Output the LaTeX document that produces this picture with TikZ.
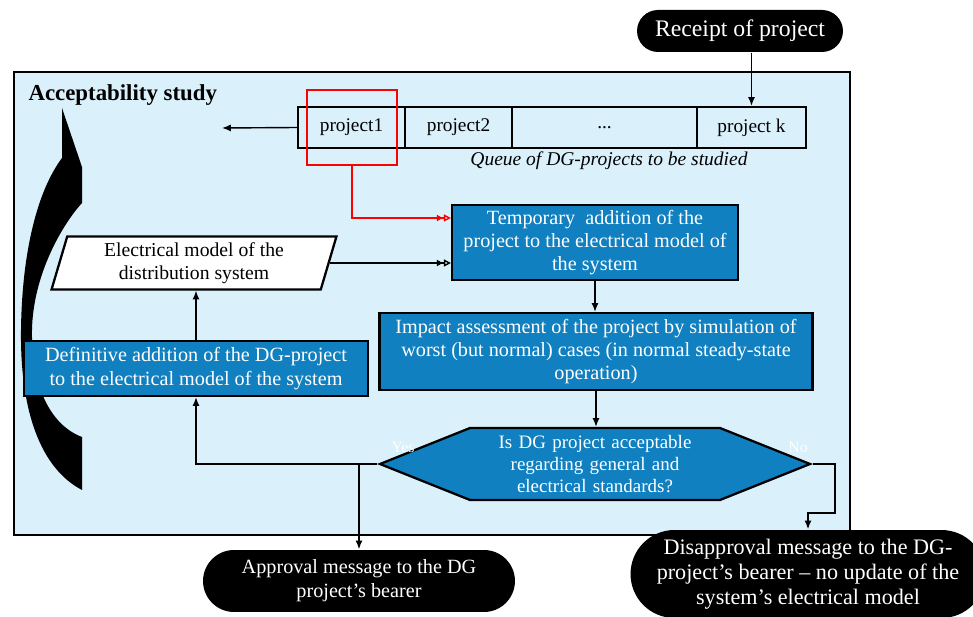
\documentclass[tikz,border=0pt]{standalone}
\usepackage{fontspec}
\setmainfont{Liberation Serif}
\usetikzlibrary{shapes.geometric, shapes.misc, shapes.symbols}
\usetikzlibrary{arrows.meta}
\usetikzlibrary{calc}
\usetikzlibrary{positioning}
\definecolor{studybg}{RGB}{218,240,250}
\definecolor{stepblue}{RGB}{16,128,192}

\begin{document}
\begin{tikzpicture}[x=0.02cm, y=-0.02cm, line width=0.8pt,
    >={Latex[length=5pt,width=4pt]},
    bluebox/.style={draw, line width=1.3pt, fill=stepblue, text=white, align=center, inner sep=0pt, font=\fontsize{11.5}{13.3}\selectfont},
    pill/.style={rounded rectangle, fill=black, text=white, align=center, inner sep=0pt, font=\fontsize{11.5}{13.6}\selectfont},
    cell/.style={draw, line width=1.3pt, minimum height=0.82cm, inner sep=0pt, font=\fontsize{11}{12}\selectfont},
    inlink/.style={-{Latex[length=4pt,width=4pt]Triangle[open,length=4pt,width=4pt,fill=white]}}]
            \useasboundingbox (0,0) rectangle (973,617);

            % Study frame
            \draw[line width=1.4pt, fill=studybg] (14,72) rectangle (850,535);
            \node[anchor=west, font=\bfseries\fontsize{13}{15}\selectfont] (title) at (22,95) {Acceptability study};

            % Loop arrow
            \fill (62,108) -- (82,167) -- (82,203) .. controls (62,225) and (33,275) .. (32,330)
                .. controls (31,385) and (50,425) .. (82,437) -- (82,490)
                .. controls (40,468) and (20,410) .. (21,330)
                .. controls (22,250) and (38,190) .. (62,158) -- cycle;

            % Incoming project
            \node[pill, minimum width=4.12cm, minimum height=0.84cm, font=\fontsize{13.5}{15}\selectfont] (receipt) at (740,31) {Receipt of project};

            % Queue
            \node[cell, minimum width=2.14cm] (p1) at (351.5,127.5) {project1};
            \node[cell, minimum width=2.14cm] (p2) at (458.5,127.5) {project2};
            \node[cell, minimum width=3.7cm] (pdots) at (604.5,127.5) {...};
            \node[cell, minimum width=2.18cm] (pk) at (751.5,127.5) {project k};
            \node[font=\itshape\fontsize{11.1}{12}\selectfont] (qcap) at (609,161) {Queue of DG-projects to be studied};
            \node[draw=red, line width=1.3pt, minimum width=1.8cm, minimum height=1.5cm] (sel) at (352,127.5) {};
            \coordinate (out) at (222,128);
            \draw[->] (receipt.south -| pk.north) -- (pk.north);
            \draw[->] (p1.west) -- (out);

            % Study steps
            \node[bluebox, minimum width=5.72cm, minimum height=1.5cm] (temp) at (595,242.5) {Temporary\ \ addition of the\\project to the electrical model of\\the system};
            \node[trapezium, trapezium left angle=75, trapezium right angle=105, trapezium stretches=true, draw, line width=1.3pt, fill=white, align=center, inner sep=0pt, minimum width=5.7cm, minimum height=1.06cm, font=\fontsize{11.2}{13.3}\selectfont] (model) at (194,263) {Electrical model of the\\distribution system};
            \node[bluebox, minimum width=8.66cm, minimum height=1.54cm] (impact) at (596,351.5) {Impact assessment of the project by simulation of\\worst (but normal) cases (in normal steady-state\\operation)};
            \node[signal, signal to=west and east, signal pointer angle=43.6, draw, line width=1.3pt, fill=stepblue, text=white, align=center, text width=5cm, inner sep=0pt, minimum height=1.44cm, font=\fontsize{10.8}{12.5}\selectfont] (dec) at (595,464) {Is DG project acceptable\\regarding general and\\electrical standards?};
            \node[bluebox, minimum width=6.88cm, minimum height=1.1cm] (def) at (196,368.5) {Definitive addition of the DG-project\\to the electrical model of the system};
            \node[text=white, font=\fontsize{9}{10}\selectfont] (yes) at (403,447) {Yes};
            \node[text=white, font=\fontsize{9}{10}\selectfont] (no) at (798,447) {No};

            % Messages
            \node[pill, minimum width=6.24cm, minimum height=1.24cm] (appr) at (359,581) {Approval message to the DG\\project’s bearer};
            \node[pill, minimum width=7.1cm, minimum height=1.76cm, font=\fontsize{12.6}{14.2}\selectfont] (disap) at (808,574) {Disapproval message to the DG-\\project’s bearer -- no update of the\\system’s electrical model};

            % Links
            \draw[red, inlink] (sel.south) |- ($(temp.west)+(0,-24.5)$);
            \draw[inlink] (model.east) -- (model.east -| temp.west);
            \draw[->] (temp.south) -- (temp.south |- impact.north);
            \draw[->] (impact.south) -- (impact.south |- dec.north);
            \draw[->] (dec.west) -| (def.south);
            \draw[->] (def.north) -- (def.north |- model.south);
            \draw[->] (dec.west -| appr.north) -- (appr.north);
            \draw[->] (dec.east) -- ++(22,0) -- ++(0,49) -| (disap.north);

        \end{tikzpicture}
\end{document}
